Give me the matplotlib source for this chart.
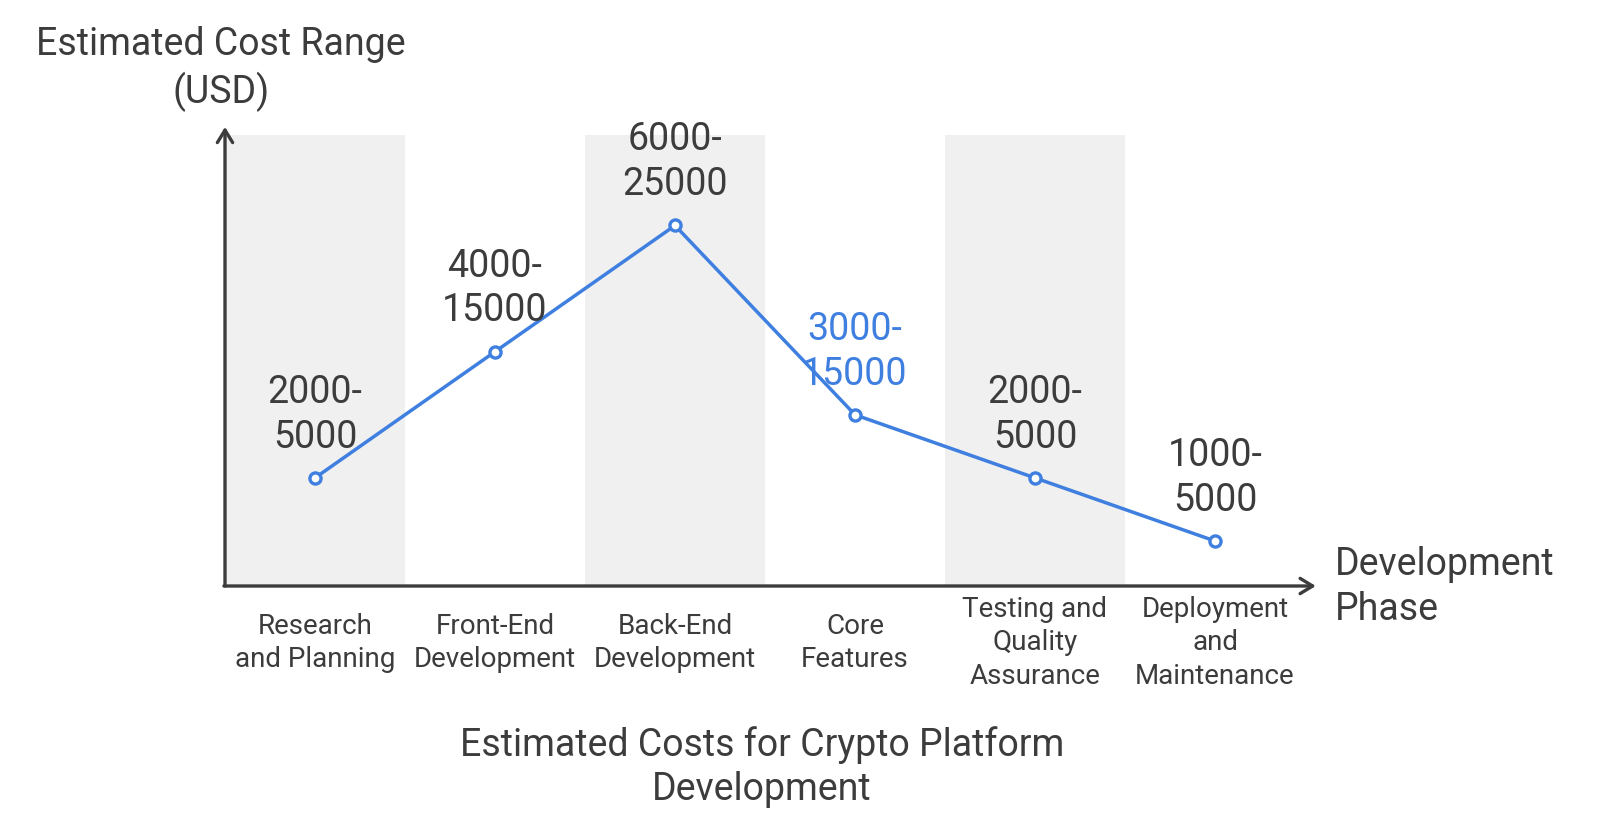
import matplotlib.pyplot as plt

plt.rcParams['font.family'] = ['Roboto', 'DejaVu Sans']

phases = ["Research\nand Planning", "Front-End\nDevelopment", "Back-End\nDevelopment",
          "Core\nFeatures", "Testing and\nQuality\nAssurance", "Deployment\nand\nMaintenance"]
range_labels = ["2000-\n5000", "4000-\n15000", "6000-\n25000", "3000-\n15000", "2000-\n5000", "1000-\n5000"]
low_cost = [2000, 4000, 6000, 3000, 2000, 1000]

dark = "#3c3c3c"
blue = "#3e7fe0"

fig = plt.figure(figsize=(16, 8.34), dpi=100)
ax = fig.add_axes([225 / 1600, 1 - 586 / 834, 1080 / 1600, 451 / 834])
ax.set_xlim(-0.5, 5.5)
ax.set_ylim(287, 7434)

# alternating shaded columns
for i in range(0, len(phases), 2):
    ax.axvspan(i - 0.5, i + 0.5, color="#f0f0f0", lw=0, zorder=0)

x = list(range(len(phases)))
ax.plot(x, low_cost, color=blue, lw=2.5, marker="o", ms=8, mfc="white",
        mec=blue, mew=2.4, zorder=3)

for i, (lab, v) in enumerate(zip(range_labels, low_cost)):
    col = blue if i == 3 else dark
    ax.annotate(lab, (i, v), xytext=(0, 16), textcoords="offset points",
                ha="center", va="bottom", fontsize=27, color=col,
                linespacing=1.27, zorder=4)

for i, lab in enumerate(phases):
    ax.text(i, -57 / 451, lab, transform=ax.get_xaxis_transform(), ha="center",
            va="center", fontsize=20, color=dark, linespacing=1.3)

for s in ax.spines.values():
    s.set_visible(False)
ax.set_xticks([])
ax.set_yticks([])

# axis arrows
arrow = dict(arrowstyle="->,head_length=0.9,head_width=0.55", color=dark, lw=2.4,
             shrinkA=0, shrinkB=0)
ax.annotate("", xy=(0, 1.018), xytext=(0, 0), xycoords="axes fraction",
            textcoords="axes fraction", arrowprops=arrow, annotation_clip=False)
ax.annotate("", xy=(1.01, 0), xytext=(-0.001, 0), xycoords="axes fraction",
            textcoords="axes fraction", arrowprops=arrow, annotation_clip=False)

fig.text(221 / 1600, 1 - 69 / 834, "Estimated Cost Range\n(USD)", ha="center",
         va="center", fontsize=27, color=dark, linespacing=1.27)
fig.text(1335 / 1600, 1 - 587 / 834, "Development\nPhase", ha="left",
         va="center", fontsize=27, color=dark, linespacing=1.27)
fig.text(762 / 1600, 1 - 767 / 834, "Estimated Costs for Crypto Platform\nDevelopment",
         ha="center", va="center", fontsize=27, color=dark, linespacing=1.27)

fig.savefig("out.png", dpi=100, facecolor="white")
